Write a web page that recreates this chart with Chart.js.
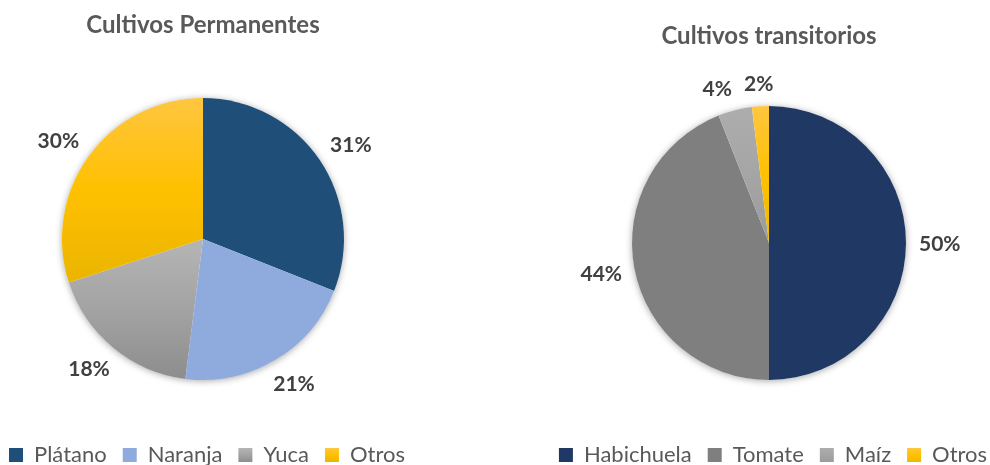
<!DOCTYPE html>
<html><head><meta charset="utf-8">
<script src="https://cdn.jsdelivr.net/npm/chart.js@4.4.1/dist/chart.umd.min.js"></script>
<style>
html,body{margin:0;padding:0;background:#fff;}
#wrap{position:relative;width:990px;height:465px;overflow:hidden;background:#fff;}
canvas{position:absolute;top:0;}
</style></head><body>
<div id="wrap">
<canvas id="c1" width="466" height="476" style="left:-30px"></canvas>
<canvas id="c2" width="500" height="476" style="left:519px"></canvas>
</div>
<script>
// ---- data ----
const permTitle = 'Cultivos Permanentes';
const permCategories = ['Plátano', 'Naranja', 'Yuca', 'Otros'];
const permValues = [31, 21, 18, 30];

const tranTitle = 'Cultivos transitorios';
const tranCategories = ['Habichuela', 'Tomate', 'Maíz', 'Otros'];
const tranValues = [50, 44, 4, 2];

// ---- styles ----
const permColors = ['#1F4E79', '#8FAADC', ['#B5B5B5', '#A3A3A3', '#8D8D8D'], ['#FFC640', '#FFC000', '#EAB500']];
const tranColors = ['#203864', '#7F7F7F', ['#ADADAD', '#A5A5A5', '#9B9B9B'], ['#FFC640', '#FFC000', '#F0B800']];

function sliceFill(specs) {
  return (c) => {
    const spec = specs[c.dataIndex];
    if (typeof spec === 'string') return spec;
    const chart = c.chart, ca = chart.chartArea;
    if (!ca || c.type !== 'data') return spec[1];
    const ctrl = chart.getDatasetMeta(c.datasetIndex).controller;
    const R = ctrl.outerRadius;
    if (!R) return spec[1];
    const cy = (ca.top + ca.bottom) / 2;
    const vals = c.dataset.data;
    const tot = vals.reduce((a, b) => a + b, 0);
    let cum = 0;
    for (let k = 0; k < c.dataIndex; k++) cum += vals[k];
    const a0 = -Math.PI / 2 + 2 * Math.PI * cum / tot;
    const a1 = a0 + 2 * Math.PI * vals[c.dataIndex] / tot;
    const ys = [cy, cy + R * Math.sin(a0), cy + R * Math.sin(a1)];
    for (const q of [-Math.PI / 2, Math.PI / 2, 3 * Math.PI / 2]) if (q > a0 && q < a1) ys.push(cy + R * Math.sin(q));
    const top = Math.min(...ys), bot = Math.max(...ys);
    const g = chart.ctx.createLinearGradient(0, top, 0, bot);
    g.addColorStop(0, spec[0]); g.addColorStop(0.5, spec[1]); g.addColorStop(1, spec[2]);
    return g;
  };
}

function legendLabels(specs) {
  return (chart) => {
    const items = Chart.overrides.pie.plugins.legend.labels.generateLabels(chart);
    const lg = chart.legend;
    items.forEach((it, i) => {
      const spec = specs[i];
      if (typeof spec === 'string') { it.fillStyle = spec; return; }
      if (lg && lg.top !== undefined) {
        const t = lg.top + lg.options.labels.padding + 4;
        const g = chart.ctx.createLinearGradient(0, t, 0, t + 14);
        g.addColorStop(0, spec[0]); g.addColorStop(0.5, spec[1]); g.addColorStop(1, spec[2]);
        it.fillStyle = g;
      } else it.fillStyle = spec[1];
    });
    return items;
  };
}

const pieShadow = {
  id: 'pieShadow',
  beforeDatasetsDraw(chart) {
    const arc = chart.getDatasetMeta(0).data[0];
    if (!arc) return;
    const {x, y, outerRadius} = arc.getProps(['x', 'y', 'outerRadius'], true);
    const ctx = chart.ctx;
    ctx.save();
    ctx.shadowColor = 'rgba(0,0,0,0.35)';
    ctx.shadowBlur = 7;
    ctx.shadowOffsetY = 1;
    ctx.beginPath();
    ctx.arc(x, y, outerRadius, 0, Math.PI * 2);
    ctx.fillStyle = '#ffffff';
    ctx.fill();
    ctx.restore();
  }
};

const pctLabels = {
  id: 'pctLabels',
  afterDatasetsDraw(chart, args, opts) {
    const meta = chart.getDatasetMeta(0);
    const vals = chart.data.datasets[0].data;
    const tot = vals.reduce((a, b) => a + b, 0);
    const ctx = chart.ctx;
    ctx.save();
    ctx.font = 'bold 21px Lato';
    ctx.fillStyle = '#404040';
    ctx.textAlign = 'center';
    ctx.textBaseline = 'middle';
    const h = 20;
    const boxes = meta.data.map((arc, i) => {
      const {x, y, startAngle, endAngle, outerRadius} = arc.getProps(['x', 'y', 'startAngle', 'endAngle', 'outerRadius'], true);
      const mid = (startAngle + endAngle) / 2;
      const dx = Math.cos(mid), dy = Math.sin(mid);
      const text = Math.round(vals[i] / tot * 100) + '%';
      const w = ctx.measureText(text).width;
      const d = outerRadius + opts.gap;
      return {text, cx: x + dx * d + dx * w / 2, cy: y + dy * d + dy * h / 2, w};
    });
    for (let i = 0; i < boxes.length; i++) {
      for (let j = 0; j < boxes.length; j++) {
        if (i === j) continue;
        const a = boxes[i], b = boxes[j];
        if (a.cx < b.cx && Math.abs(a.cy - b.cy) < h) {
          const gap = (b.cx - b.w / 2) - (a.cx + a.w / 2);
          if (gap < opts.minGap) a.cx -= (opts.minGap - gap);
        }
      }
    }
    boxes.forEach(b => ctx.fillText(b.text, b.cx, b.cy + 1));
    ctx.restore();
  }
};

const legendShift = {
  id: 'legendShift',
  afterLayout(chart, args, opts) {
    if (chart.legend) { chart.legend.left += opts.dx; chart.legend.right += opts.dx; }
  }
};

function makePie(id, title, cats, vals, colors, radius, titlePad, gap) {
  return new Chart(document.getElementById(id), {
    type: 'pie',
    data: {
      labels: cats,
      datasets: [{
        data: vals,
        backgroundColor: sliceFill(colors),
        borderWidth: 0,
        radius: radius
      }]
    },
    options: {
      responsive: false,
      animation: false,
      events: [],
      layout: {padding: 0},
      plugins: {
        title: {
          display: true,
          text: title,
          color: '#595959',
          font: {family: 'Lato', size: 24, weight: 'bold'},
          padding: titlePad
        },
        legend: {
          display: true,
          position: 'bottom',
          labels: {
            color: '#595959',
            font: {family: 'Lato', size: 22},
            boxWidth: 14,
            boxHeight: 14,
            padding: 16,
            generateLabels: legendLabels(colors)
          }
        },
        tooltip: {enabled: false},
        pctLabels: {gap: gap, minGap: 12},
        legendShift: {dx: 4}
      }
    },
    plugins: [pieShadow, pctLabels, legendShift]
  });
}

makePie('c1', permTitle, permCategories, permValues, permColors, 141, {top: 11, bottom: 10.2}, 17);
makePie('c2', tranTitle, tranCategories, tranValues, tranColors, 137, {top: 22, bottom: 7.2}, 13);
</script>
</body></html>
